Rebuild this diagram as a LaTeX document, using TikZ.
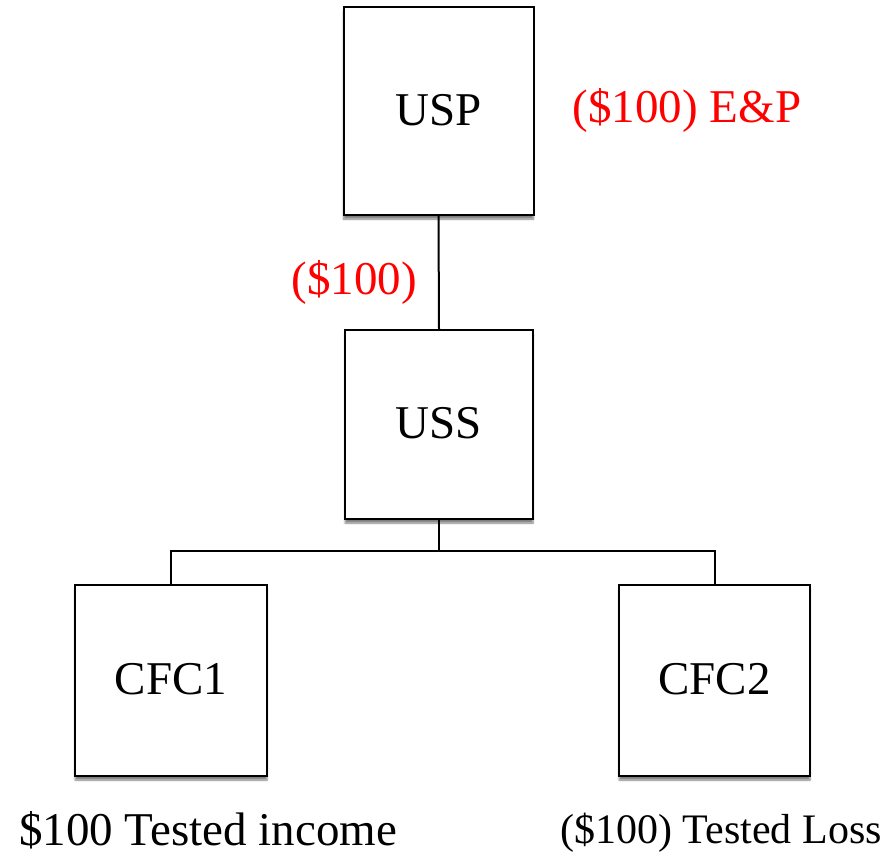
\documentclass[tikz,border=0pt]{standalone}
\usepackage{fontspec}
\setmainfont{Liberation Serif}
\usetikzlibrary{shadows.blur}
\begin{document}
\begin{tikzpicture}[x=1pt,y=-1pt,
  entity/.style={draw=black, line width=2pt, fill=white, rectangle,
    minimum width=190pt, minimum height=#1, inner sep=0pt,
    text height=28pt, text depth=0pt,
    font=\fontsize{47}{50}\selectfont,
    blur shadow={shadow xshift=0pt, shadow yshift=-4pt, shadow blur steps=6, shadow opacity=50}},
  entity/.default=190pt,
  link/.style={draw=black, line width=2pt},
  redlabel/.style={text=red, inner sep=0pt, font=\fontsize{47}{50}\selectfont},
  note/.style={inner sep=0pt, font=\fontsize{#1}{#1}\selectfont},
]
\useasboundingbox (0,0) rectangle (887,855);

% ownership chain
\node[entity=208pt] (usp) at (438.5,111) {USP};
\node[entity=189pt, minimum width=188pt] (uss) at (439,424.5) {USS};
\node[entity=191pt, minimum width=192pt] (cfc1) at (171,680.5) {CFC1};
\node[entity=191pt, minimum width=191pt] (cfc2) at (714.5,680.5) {CFC2};

% connectors
\coordinate (split) at (439,551);
\draw[link] (usp.south) -- (uss.north);
\draw[link] (uss.south) -- (split);
\draw[link] (cfc1.north) |- (split) -| (cfc2.north);

% amounts
\node[redlabel] (ep) at (687,110) {(\$100) E\&P};
\node[redlabel] (dist) at (354,282) {(\$100)};
\node[note=47] (inc) at (208,830) {\$100 Tested income};
\node[note=42] (loss) at (721,833) {(\$100) Tested Loss};
\end{tikzpicture}
\end{document}
